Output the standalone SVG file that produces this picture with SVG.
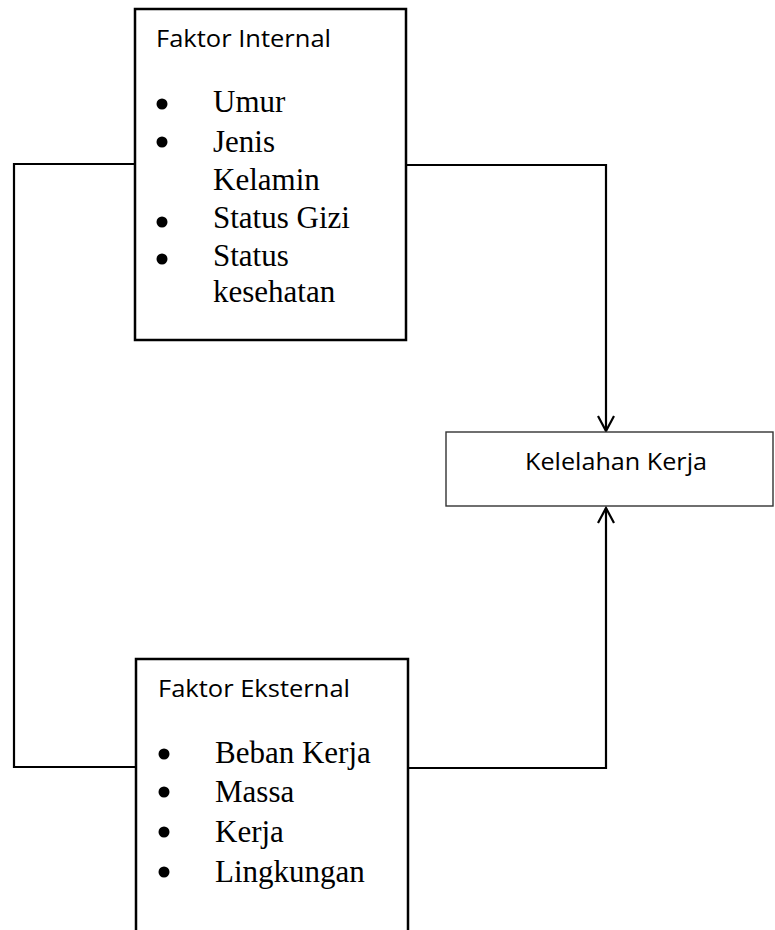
<svg xmlns="http://www.w3.org/2000/svg" width="775" height="930" viewBox="0 0 775 930">
<style>
.box{fill:#fff;stroke:#000;stroke-width:2.5}
.box2{fill:#fff;stroke:#333;stroke-width:1.4}
.conn{fill:none;stroke:#000;stroke-width:2.2}
.sans{font-family:"Open Sans","Noto Sans",sans-serif;font-size:24px;fill:#000}
.serif{font-family:"Liberation Serif","Times New Roman",serif;font-size:31px;fill:#000}
.dot{fill:#000}
</style>
<defs>
<marker id="arr" markerUnits="userSpaceOnUse" viewBox="0 0 20 20" refX="18" refY="10" markerWidth="20" markerHeight="20" orient="auto">
<path d="M3,2 L18,10 L3,18" fill="none" stroke="#000" stroke-width="2.2"/>
</marker>
</defs>
<g id="connectors">
<path class="conn" d="M134,164 H14 V767 H136"/>
<path class="conn" d="M406,165 H606 V431" marker-end="url(#arr)"/>
<path class="conn" d="M408,768 H606 V508" marker-end="url(#arr)"/>
</g>
<g id="faktor-internal">
<rect class="box" x="135" y="9" width="271" height="331"/>
<text class="sans" x="156" y="47" textLength="175" lengthAdjust="spacingAndGlyphs">Faktor Internal</text>
<circle class="dot" cx="162" cy="104" r="5.5"/>
<text class="serif" x="213" y="112">Umur</text>
<circle class="dot" cx="162" cy="142" r="5.5"/>
<text class="serif" x="213" y="152">Jenis</text>
<text class="serif" x="213" y="190">Kelamin</text>
<circle class="dot" cx="162" cy="222" r="5.5"/>
<text class="serif" x="213" y="228">Status Gizi</text>
<circle class="dot" cx="162" cy="259" r="5.5"/>
<text class="serif" x="213" y="266">Status</text>
<text class="serif" x="213" y="302">kesehatan</text>
</g>
<g id="kelelahan-kerja">
<rect class="box2" x="446" y="432" width="327" height="74"/>
<text class="sans" x="525" y="470" textLength="182" lengthAdjust="spacingAndGlyphs">Kelelahan Kerja</text>
</g>
<g id="faktor-eksternal">
<path class="box" d="M136,935 V659 H408 V935"/>
<text class="sans" x="158" y="697" textLength="192" lengthAdjust="spacingAndGlyphs">Faktor Eksternal</text>
<circle class="dot" cx="164" cy="754" r="5.5"/>
<text class="serif" x="215" y="763">Beban Kerja</text>
<circle class="dot" cx="164" cy="792" r="5.5"/>
<text class="serif" x="215" y="802">Massa</text>
<circle class="dot" cx="164" cy="832" r="5.5"/>
<text class="serif" x="215" y="842">Kerja</text>
<circle class="dot" cx="164" cy="872" r="5.5"/>
<text class="serif" x="215" y="882">Lingkungan</text>
</g>
</svg>
